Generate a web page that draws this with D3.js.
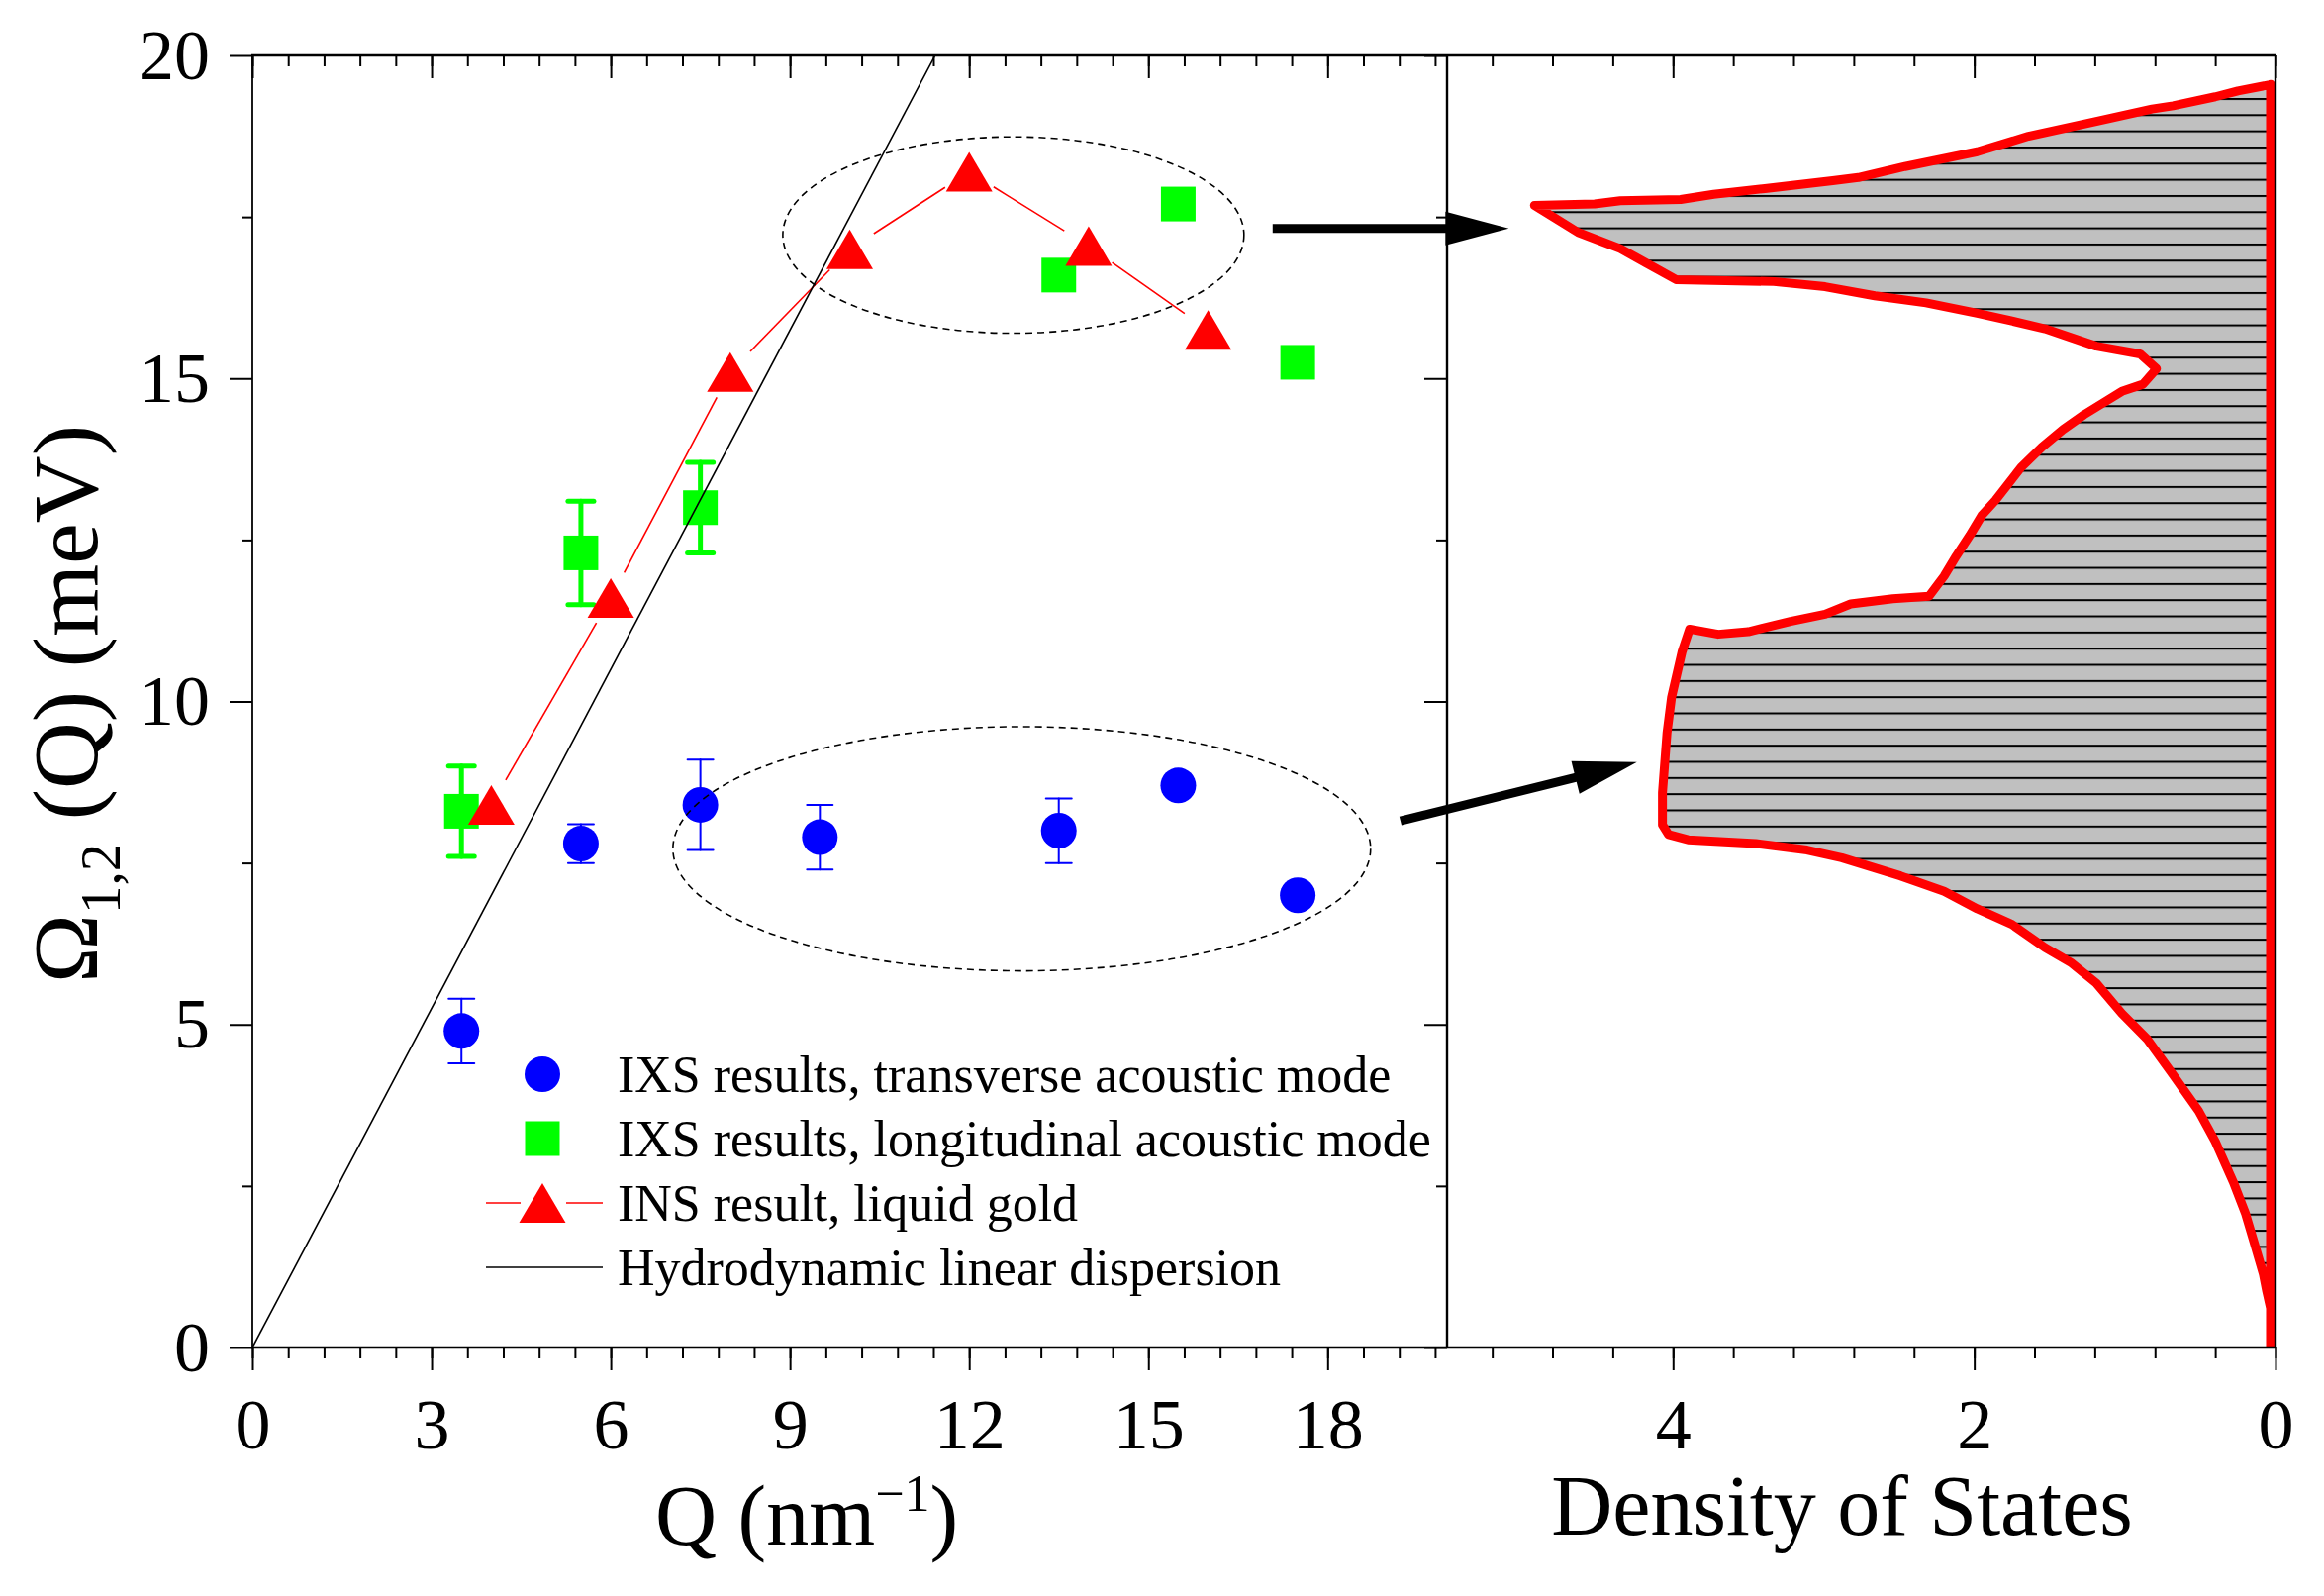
<!DOCTYPE html>
<html>
<head>
<meta charset="utf-8">
<script src="https://cdn.jsdelivr.net/npm/d3@7"></script>
<style>
  body { margin: 0; background: #fff; }
  svg { display: block; }
  text { font-family: "Liberation Serif", "Times New Roman", serif; fill: #000; }
</style>
</head>
<body>
<svg width="2348" height="1612"></svg>
<script>
// IXS, transverse acoustic mode
const TA_Q   = [3.5, 5.5, 7.5, 9.5, 13.5, 15.5, 17.5];
const TA_E   = [4.9, 7.8, 8.4, 7.9, 8.0, 8.7, 7.0];
const TA_ERR = [0.5, 0.3, 0.7, 0.5, 0.5, 0, 0];
// IXS, longitudinal acoustic mode
const LA_Q   = [3.5, 5.5, 7.5, 13.5, 15.5, 17.5];
const LA_E   = [8.3, 12.3, 13.0, 16.6, 17.7, 15.25];
const LA_ERR = [0.7, 0.8, 0.7, 0, 0, 0];
// INS, liquid gold
const INS_Q = [4, 6, 8, 10, 12, 14, 16];
const INS_E = [8.4, 11.6, 15.1, 17.0, 18.2, 17.05, 15.75];
// hydrodynamic linear dispersion
const HYDRO_Q = [0, 11.43];
const HYDRO_E = [0, 20];
// density of states (energy, dos)
const DOS_E = [19.55,19.45,19.36,19.22,19.17,18.98,18.75,18.51,18.28,18.11,18.06,17.94,17.85,17.77,17.75,17.70,17.68,
  17.26,17.01,16.79,16.53,16.50,16.42,16.28,16.17,16.01,15.89,15.77,15.50,15.38,15.15,14.91,14.80,14.44,14.21,13.94,
  13.62,13.11,12.88,12.57,12.25,11.94,11.63,11.59,11.51,11.35,11.24,11.08,11.04,11.12,10.77,10.06,9.51,8.59,8.09,
  7.94,7.86,7.80,7.70,7.58,7.30,7.06,6.79,6.55,6.19,5.96,5.64,5.17,4.77,4.22,3.66,3.19,2.56,2.08,1.61,1.13,0.89,0.58,0.02];
const DOS_V = [0.03,0.25,0.40,0.68,0.82,1.19,1.64,1.98,2.46,2.77,2.94,3.39,3.73,3.95,4.35,4.52,4.92,
  4.63,4.35,4.18,3.98,3.33,2.99,2.66,2.32,1.98,1.75,1.53,1.19,0.90,0.79,0.88,1.02,1.27,1.41,1.55,
  1.69,1.86,1.95,2.03,2.12,2.20,2.30,2.54,2.82,2.99,3.22,3.50,3.70,3.89,3.94,4.01,4.04,4.07,4.07,
  4.03,3.90,3.45,3.11,2.88,2.49,2.20,1.98,1.75,1.53,1.36,1.19,1.02,0.85,0.68,0.51,0.40,0.28,0.20,0.14,0.08,0.06,0.03,0.01];

const Q_TICKS   = [0, 3, 6, 9, 12, 15, 18];
const E_TICKS   = [0, 5, 10, 15, 20];
const DOS_TICKS = [4, 2, 0];
const LEGEND_LABELS = [
  "IXS results, transverse acoustic mode",
  "IXS results, longitudinal acoustic mode",
  "INS result, liquid gold",
  "Hydrodynamic linear dispersion"
];

const L = 255, MID = 1462, R = 2299, T = 56, B = 1361;
const x  = d3.scaleLinear().domain([0, 20]).range([L, MID]);
const y  = d3.scaleLinear().domain([0, 20]).range([B, T]);
const xd = d3.scaleLinear().domain([5.5, 0]).range([MID, R]);

const svg = d3.select("svg");
svg.append("rect").attr("width", 2348).attr("height", 1612).attr("fill", "#fff");

const defs = svg.append("defs");
defs.append("clipPath").attr("id", "clipL")
  .append("rect").attr("x", L).attr("y", T).attr("width", MID - L).attr("height", B - T);
defs.append("clipPath").attr("id", "clipR")
  .append("rect").attr("x", MID).attr("y", T).attr("width", R - MID).attr("height", B - T);
const hatch = defs.append("pattern").attr("id", "hatch").attr("patternUnits", "userSpaceOnUse")
  .attr("x", 0).attr("y", 1).attr("width", 20).attr("height", 16.33);
hatch.append("rect").attr("width", 20).attr("height", 16.33).attr("fill", "#c0c0c0");
hatch.append("rect").attr("width", 20).attr("height", 2).attr("fill", "#000");

// ---------- axes ----------
function axis(gen, scale, values, size, pos, labels, pad) {
  const g = svg.append("g")
    .attr("transform", pos)
    .call(gen(scale).tickValues(values).tickSize(size).tickSizeOuter(0)
      .tickPadding(pad || 0).tickFormat(labels ? d3.format("d") : ""));
  g.select(".domain").remove();
  g.selectAll(".tick line").attr("stroke", "#000").attr("stroke-width", 2);
  g.selectAll(".tick text").attr("font-size", 72).attr("font-family", "Liberation Serif");
  return g;
}
const qMinor = d3.range(0, 20.01, 0.6);
const eMinor = d3.range(2.5, 20, 5);
const dMinor = d3.range(0, 5.3, 0.4);

axis(d3.axisBottom, x, Q_TICKS, 23, `translate(0,${B})`, true, 28);
axis(d3.axisBottom, x, qMinor, 11, `translate(0,${B})`);
axis(d3.axisTop, x, Q_TICKS, -23, `translate(0,${T})`);
axis(d3.axisTop, x, qMinor, -11, `translate(0,${T})`);
axis(d3.axisLeft, y, E_TICKS, 23, `translate(${L},0)`, true, 20);
axis(d3.axisLeft, y, eMinor, 11, `translate(${L},0)`);
axis(d3.axisRight, y, E_TICKS, -23, `translate(${MID},0)`);
axis(d3.axisRight, y, eMinor, -11, `translate(${MID},0)`);
axis(d3.axisBottom, xd, DOS_TICKS, 23, `translate(0,${B})`, true, 28);
axis(d3.axisBottom, xd, dMinor, 11, `translate(0,${B})`);
axis(d3.axisTop, xd, DOS_TICKS, -23, `translate(0,${T})`);
axis(d3.axisTop, xd, dMinor, -11, `translate(0,${T})`);

// ---------- density of states ----------
const dosPts = DOS_E.map((e, i) => [xd(DOS_V[i]), y(e)]);
const rp = svg.append("g").attr("clip-path", "url(#clipR)");
rp.append("path")
  .attr("d", d3.line()(dosPts.concat([[xd(0), y(0)], [xd(0), y(DOS_E[0])]])) + "Z")
  .attr("fill", "url(#hatch)");
rp.append("path")
  .attr("d", d3.line()(dosPts.concat([[xd(0.033), y(0)], [xd(0.033), y(DOS_E[0])]])) + "Z")
  .attr("fill", "none").attr("stroke", "#ff0000").attr("stroke-width", 9).attr("stroke-linejoin", "round");

// ---------- dispersion panel ----------
const lp = svg.append("g").attr("clip-path", "url(#clipL)");

function triangle(cx, cy) {
  return `M${cx},${cy - 20}L${cx + 23.5},${cy + 20}L${cx - 23.5},${cy + 20}Z`;
}

// error bars
function errorBars(Q, E, ERR, color, w, cap) {
  Q.forEach((q, i) => {
    if (!ERR[i]) return;
    const cx = x(q), y0 = y(E[i] - ERR[i]), y1 = y(E[i] + ERR[i]);
    const g = lp.append("g").attr("stroke", color).attr("stroke-width", w).attr("stroke-linecap", "round");
    g.append("line").attr("x1", cx).attr("x2", cx).attr("y1", y0).attr("y2", y1);
    g.append("line").attr("x1", cx - cap / 2).attr("x2", cx + cap / 2).attr("y1", y0).attr("y2", y0);
    g.append("line").attr("x1", cx - cap / 2).attr("x2", cx + cap / 2).attr("y1", y1).attr("y2", y1);
  });
}
errorBars(TA_Q, TA_E, TA_ERR, "#0000ff", 2, 26);
errorBars(LA_Q, LA_E, LA_ERR, "#00ff00", 5, 26);

// INS connecting line with gaps round the symbols
const insPts = INS_Q.map((q, i) => [x(q), y(INS_E[i])]);
for (let i = 0; i < insPts.length - 1; i++) {
  const [ax, ay] = insPts[i], [bx, by] = insPts[i + 1];
  const len = Math.hypot(bx - ax, by - ay), ux = (bx - ax) / len, uy = (by - ay) / len, gap = 29;
  lp.append("line")
    .attr("x1", ax + ux * gap).attr("y1", ay + uy * gap)
    .attr("x2", bx - ux * gap).attr("y2", by - uy * gap)
    .attr("stroke", "#ff0000").attr("stroke-width", 1.6);
}

lp.selectAll(".ta").data(TA_Q).enter().append("circle")
  .attr("cx", d => x(d)).attr("cy", (d, i) => y(TA_E[i])).attr("r", 18).attr("fill", "#0000ff");
lp.selectAll(".la").data(LA_Q).enter().append("rect")
  .attr("x", d => x(d) - 17.5).attr("y", (d, i) => y(LA_E[i]) - 17.5)
  .attr("width", 35).attr("height", 35).attr("fill", "#00ff00");
lp.selectAll(".ins").data(insPts).enter().append("path")
  .attr("d", d => triangle(d[0], d[1])).attr("fill", "#ff0000");

lp.append("path")
  .attr("d", d3.line()(HYDRO_Q.map((q, i) => [x(q), y(HYDRO_E[i])])))
  .attr("stroke", "#000").attr("stroke-width", 1.6).attr("fill", "none");

// dashed ellipses
[[12.74, 17.22, 3.86, 1.52], [12.88, 7.72, 5.84, 1.89]].forEach(([q, e, rq, re]) => {
  svg.append("ellipse")
    .attr("cx", x(q)).attr("cy", y(e))
    .attr("rx", x(rq) - x(0)).attr("ry", y(0) - y(re))
    .attr("fill", "none").attr("stroke", "#000").attr("stroke-width", 1.6)
    .attr("stroke-dasharray", "7,5");
});

// arrows from the ellipses to the DOS peaks
function arrow(x0, y0, x1, y1) {
  const a = Math.atan2(y1 - y0, x1 - x0), hl = 64, hw = 17;
  const bx = x1 - hl * Math.cos(a), by = y1 - hl * Math.sin(a);
  svg.append("line").attr("x1", x0).attr("y1", y0).attr("x2", bx + 2 * Math.cos(a)).attr("y2", by + 2 * Math.sin(a))
    .attr("stroke", "#000").attr("stroke-width", 9);
  svg.append("path")
    .attr("d", `M${x1},${y1}L${bx - hw * Math.sin(a)},${by + hw * Math.cos(a)}L${bx + hw * Math.sin(a)},${by - hw * Math.cos(a)}Z`)
    .attr("fill", "#000");
}
arrow(x(17.08), y(17.32), xd(5.09), y(17.32));
arrow(x(19.22), y(8.15), xd(4.24), y(9.06));

// ---------- frame ----------
const frame = svg.append("g").attr("stroke", "#000").attr("stroke-width", 2.4);
frame.append("line").attr("x1", L - 1).attr("x2", R + 1).attr("y1", T).attr("y2", T);
frame.append("line").attr("x1", L - 1).attr("x2", R + 1).attr("y1", B).attr("y2", B);
frame.append("line").attr("x1", L).attr("x2", L).attr("y1", T).attr("y2", B).attr("stroke-width", 1.8);
frame.append("line").attr("x1", MID).attr("x2", MID).attr("y1", T).attr("y2", B);
frame.append("line").attr("x1", R).attr("x2", R).attr("y1", T).attr("y2", B);

// ---------- legend ----------
const rows = [1085, 1150, 1215, 1280], lx = 548;
const leg = svg.append("g");
leg.append("circle").attr("cx", lx).attr("cy", rows[0]).attr("r", 18).attr("fill", "#0000ff");
leg.append("rect").attr("x", lx - 17.5).attr("y", rows[1] - 17.5).attr("width", 35).attr("height", 35).attr("fill", "#00ff00");
leg.append("line").attr("x1", lx - 57).attr("x2", lx - 22).attr("y1", rows[2]).attr("y2", rows[2]).attr("stroke", "#ff0000").attr("stroke-width", 1.6);
leg.append("line").attr("x1", lx + 24).attr("x2", lx + 61).attr("y1", rows[2]).attr("y2", rows[2]).attr("stroke", "#ff0000").attr("stroke-width", 1.6);
leg.append("path").attr("d", triangle(lx, rows[2])).attr("fill", "#ff0000");
leg.append("line").attr("x1", lx - 57).attr("x2", lx + 61).attr("y1", rows[3]).attr("y2", rows[3]).attr("stroke", "#000").attr("stroke-width", 1.6);
leg.selectAll(".lt").data(LEGEND_LABELS).enter().append("text")
  .attr("x", 624).attr("y", (d, i) => rows[i] + 18)
  .attr("font-size", 52).text(d => d);

// ---------- axis titles ----------
const xt = svg.append("text").attr("x", 662).attr("y", 1560).attr("font-size", 86);
xt.append("tspan").text("Q (nm");
xt.append("tspan").attr("font-size", 52).attr("dy", -34).text("\u22121");
xt.append("tspan").attr("dy", 34).text(")");

svg.append("text").attr("x", 1861).attr("y", 1550).attr("font-size", 86)
  .attr("text-anchor", "middle").text("Density of States");

const yt = svg.append("text").attr("transform", "translate(98,711) rotate(-90)")
  .attr("text-anchor", "middle").attr("font-size", 94);
yt.append("tspan").text("\u03A9");
yt.append("tspan").attr("font-size", 57).attr("dy", 23).text("1,2");
yt.append("tspan").attr("dy", -23).text(" (Q) (meV)");
</script>
</body>
</html>
